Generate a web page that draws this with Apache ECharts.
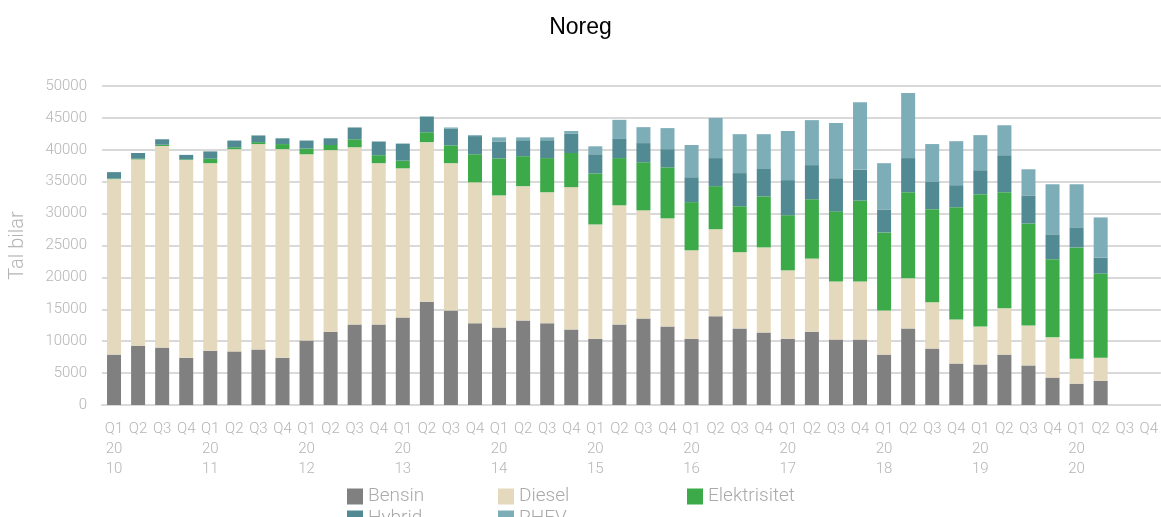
<!DOCTYPE html>
<html>
<head>
<meta charset="utf-8">
<script src="https://cdn.jsdelivr.net/npm/echarts@6/dist/echarts.min.js"></script>
<style>
html,body{margin:0;padding:0;background:#fff;}
#c{width:1161px;height:517px;}
</style>
</head>
<body>
<div id="c"></div>
<script>
const years = ['10','11','12','13','14','15','16','17','18','19','20'];
const quarters = ['Q1','Q2','Q3','Q4'];
const categories = [];
years.forEach(y => quarters.forEach(q => categories.push(q === 'Q1' ? q + '\n20\n' + y : q)));

const bensin = [7900,9300,9000,7400, 8500,8400,8700,7400, 10100,11500,12600,12600, 13700,16200,14800,12800,
  12150,13250,12800,11850, 10400,12600,13550,12300, 10400,13900,12000,11350, 10400,11500,10250,10250,
  7900,12000,8850,6500, 6350,7900,6200,4300, 3350,3800,null,null];
const diesel = [27500,29200,31600,31000, 29400,31700,32200,32700, 29200,28450,27800,25300, 23400,25000,23100,22100,
  20700,21050,20550,22300, 17900,18700,16950,16950, 13850,13650,11950,13350, 10700,11450,9100,9100,
  6900,7850,7250,6900, 5950,7250,6250,6300, 3900,3600,null,null];
const elektrisitet = [100,100,200,100, 700,300,300,800, 900,800,1250,1250, 1200,1550,2800,4400,
  5800,4700,5350,5350, 8000,7400,7550,8000, 7550,6750,7200,8000, 8650,9300,11000,12700,
  12250,13500,14600,17600, 20750,18200,16000,12250, 17450,13200,null,null];
const hybrid = [1000,900,850,700, 1150,1050,1050,900, 1250,1050,1850,2150, 2650,2400,2650,2850,
  2650,2500,2800,3000, 3000,3000,3000,2850, 3900,4400,5200,4400, 5500,5350,5200,4850,
  3600,5350,4250,3450, 3750,5800,4400,3900, 3150,2500,null,null];
const phev = [0,0,0,0, 0,0,0,0, 0,0,0,0, 50,100,150,150,
  650,450,450,450, 1250,3000,2500,3300, 5050,6300,6100,5350, 7700,7050,8650,10550,
  7250,10200,5950,6900, 5500,4700,4100,7850, 6750,6300,null,null];

const seriesNames = ['Bensin','Diesel','Elektrisitet','Hybrid','PHEV'];
const seriesData = [bensin, diesel, elektrisitet, hybrid, phev];
const colors = ['#808080','#e5d9bd','#3daa4a','#518a92','#7daeb8'];

const font = 'Roboto';
const chart = echarts.init(document.getElementById('c'));
const legendPos = [[347,487],[498,487],[687,487],[347,509],[498,509]];
chart.setOption({
  animation: false,
  color: colors,
  title: {
    text: 'Noreg', left: 'center', top: 11,
    textStyle: {fontFamily: 'Liberation Sans', fontWeight: 400, fontSize: 23, color: '#000'}
  },
  legend: seriesNames.map((n, i) => ({
    data: [n], left: legendPos[i][0], top: legendPos[i][1],
    itemWidth: 16, itemHeight: 16, itemGap: 6, padding: 0,
    icon: 'rect',
    textStyle: {fontFamily: font, fontWeight: 300, fontSize: 19, color: '#aaaaaa', padding: [0,0,0,0]}
  })),
  grid: {left: 99, right: 0, top: 86, bottom: 112},
  xAxis: {
    type: 'category', data: categories,
    axisLine: {lineStyle: {color: '#d9d9d9', width: 2}},
    axisTick: {show: false},
    axisLabel: {interval: 0, fontFamily: font, fontWeight: 300, fontSize: 15, color: '#b5b5b5', lineHeight: 20, margin: 14}
  },
  yAxis: {
    type: 'value', min: 0, max: 50000, interval: 5000,
    name: 'Tal bilar', nameLocation: 'middle', nameGap: 74,
    nameTextStyle: {fontFamily: font, fontWeight: 300, fontSize: 20, color: '#b5b5b5'},
    axisLine: {show: false}, axisTick: {show: false},
    axisLabel: {fontFamily: font, fontWeight: 300, fontSize: 15, color: '#b5b5b5', margin: 15,
      formatter: v => String(v)},
    splitLine: {lineStyle: {color: '#d9d9d9', width: 2}}
  },
  series: seriesNames.map((n, i) => ({
    name: n, type: 'bar', stack: 'total', data: seriesData[i],
    barWidth: 14
  }))
});
</script>
</body>
</html>
